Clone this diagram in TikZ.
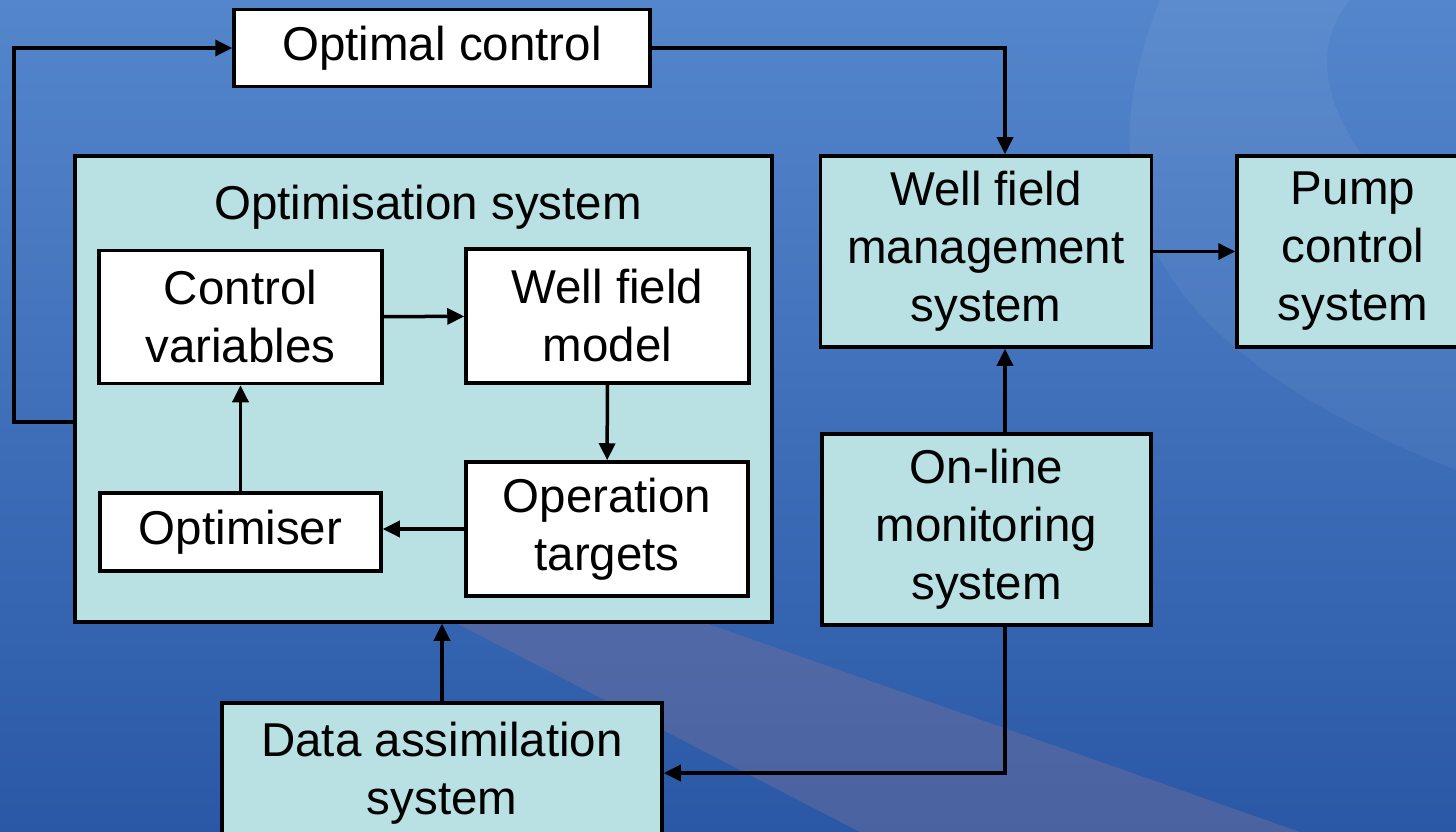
\documentclass[tikz,border=0pt]{standalone}
\usepackage{fontspec}
\setmainfont{Liberation Sans}
\usetikzlibrary{arrows.meta}
\definecolor{boxcyan}{RGB}{185,224,227}
\definecolor{bgtop}{RGB}{84,134,204}
\definecolor{bgbottom}{RGB}{42,88,166}
\definecolor{swoosh}{RGB}{135,118,150}
\begin{document}
\begin{tikzpicture}[x=1pt,y=-1pt,
        sys/.style={draw=black, line width=3.5pt, fill=boxcyan, align=center, inner sep=0pt, font=\fontsize{47.5}{58}\selectfont},
        sub/.style={sys, fill=white},
        flow/.style={line width=3.5pt, -{Triangle[length=17pt,width=16pt]}}]
        \useasboundingbox (0,0) rectangle (1456,832);
        \clip (0,0) rectangle (1456,832);
        % background
        \shade[top color=bgtop, bottom color=bgbottom] (0,0) rectangle (1456,832);
        \fill[white, opacity=0.05] (1160,0) .. controls (1080,200) and (1150,350) .. (1456,470) -- (1456,250) .. controls (1330,150) and (1300,60) .. (1350,0) -- cycle;
        \fill[swoosh, opacity=0.35] (450,620) -- (640,600) -- (1300,832) -- (860,832) -- cycle;

        \node[sys, minimum width=697, minimum height=466] (optsys) at (423.5,389) {};
        \node[font=\fontsize{47.5}{58}\selectfont] (optsystitle) at (428,207) {Optimisation system};
        \node[sub, minimum width=283, minimum height=133] (ctrlvar) at (240.5,317) {Control\\variables};
        \node[sub, minimum width=283, minimum height=134] (wfmodel) at (607.5,316) {Well field\\model};
        \node[sub, minimum width=281, minimum height=78] (optimiser) at (240.5,532) {Optimiser};
        \node[sub, minimum width=282, minimum height=134] (optarget) at (607,529) {Operation\\targets};

        \node[sub, minimum width=416, minimum height=77] (optctrl) at (442,48) {Optimal control};
        \node[sys, minimum width=331, minimum height=191] (wfmanage) at (986,251.5) {Well field\\management\\system};
        \node[sys, minimum width=232, minimum height=191] (pumpctrl) at (1353,251.5) {Pump\\control\\system};
        \node[sys, minimum width=329, minimum height=191] (online) at (986.5,529.5) {On-line\\monitoring\\system};
        \node[sys, minimum width=440, minimum height=140] (dataassim) at (442,773) {Data assimilation\\system};

        \coordinate (feedback) at (14,422);
        \coordinate (busx) at (1005,0);

        \draw[flow] (ctrlvar) -- (wfmodel);
        \draw[flow] (wfmodel) -- (optarget);
        \draw[flow] (optarget.west) -- (optarget.west -| optimiser.east);
        \draw[flow] (optimiser) -- (ctrlvar);
        \draw[flow] (feedback -| optsys.west) -- (feedback) |- (optctrl);
        \draw[flow] (optctrl.east) -| (busx |- wfmanage.north);
        \draw[flow] (wfmanage) -- (pumpctrl);
        \draw[flow] (busx |- online.north) -- (busx |- wfmanage.south);
        \draw[flow] (busx |- online.south) |- (dataassim.east);
        \draw[flow] (dataassim.north) -- (dataassim.north |- optsys.south);
\end{tikzpicture}
\end{document}
